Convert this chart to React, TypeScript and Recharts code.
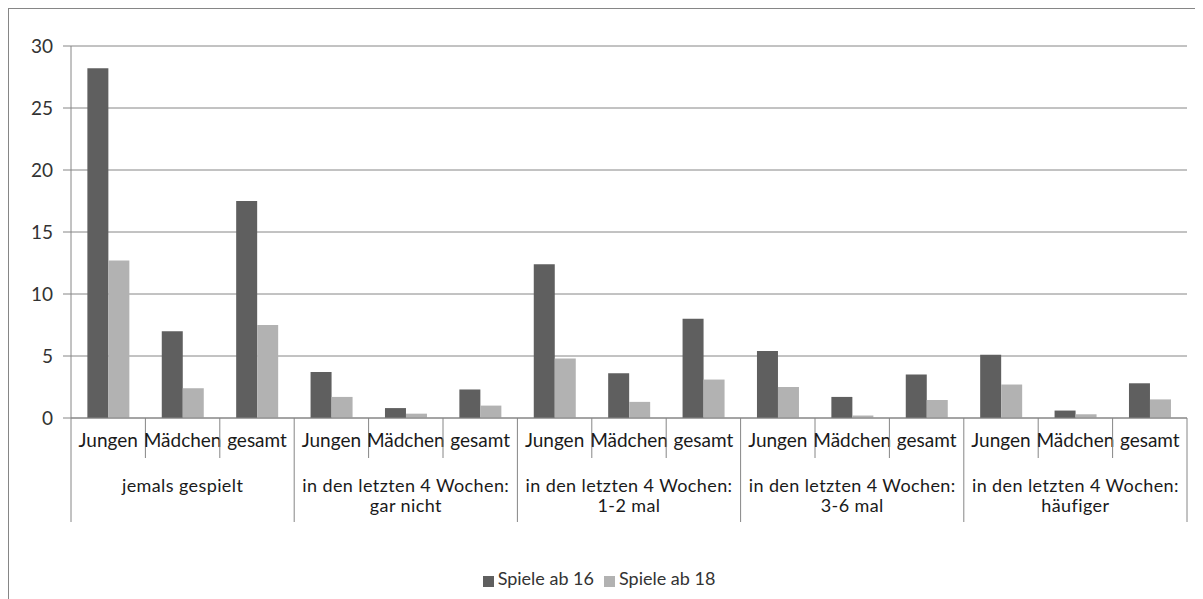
import React from 'react';
import { BarChart, Bar, XAxis, YAxis, CartesianGrid, Legend } from 'recharts';

const sexes = ['Jungen', 'Mädchen', 'gesamt'];
const groups = [
  ['jemals gespielt'],
  ['in den letzten 4 Wochen:', 'gar nicht'],
  ['in den letzten 4 Wochen:', '1-2 mal'],
  ['in den letzten 4 Wochen:', '3-6 mal'],
  ['in den letzten 4 Wochen:', 'häufiger'],
];
const ab16 = [28.2, 7.0, 17.5, 3.7, 0.8, 2.3, 12.4, 3.6, 8.0, 5.4, 1.7, 3.5, 5.1, 0.6, 2.8];
const ab18 = [12.7, 2.4, 7.5, 1.7, 0.35, 1.0, 4.8, 1.3, 3.1, 2.5, 0.2, 1.45, 2.7, 0.3, 1.5];
const yTicks = [0, 5, 10, 15, 20, 25, 30];

const data = groups.flatMap((g, gi) =>
  sexes.map((s, si) => ({
    key: `${gi}-${s}`,
    sex: s,
    group: gi,
    ab16: ab16[gi * 3 + si],
    ab18: ab18[gi * 3 + si],
  }))
);

const FONT = 'Lato, sans-serif';
const LINE = '#868686';

const CategoryTick = (props: any) => {
  const { x, y, payload } = props;
  const idx = payload.index ?? props.index ?? 0;
  const half = payload.offset || 37.2;
  const row = data[idx];
  const pos = idx % 3;
  const lines = groups[row.group];
  return (
    <g>
      <line x1={x - half} x2={x - half} y1={y} y2={y + (pos === 0 ? 104 : 40)} stroke={LINE} />
      {idx === data.length - 1 && (
        <line x1={x + half} x2={x + half} y1={y} y2={y + 104} stroke={LINE} />
      )}
      <text x={x} y={y + 29} textAnchor="middle" fontSize={19} fontFamily={FONT} fill="#1a1a1a">
        {row.sex}
      </text>
      {pos === 1 &&
        lines.map((l, i) => (
          <text key={i} x={x} y={y + 74 + i * 20} textAnchor="middle" fontSize={18} fontFamily={FONT} fill="#1a1a1a" letterSpacing={0.4}>
            {l}
          </text>
        ))}
    </g>
  );
};

export default function App() {
  return (
    <div style={{ borderLeft: `1px solid ${LINE}`, borderTop: `1px solid ${LINE}`, width: 1194 }}>
      <BarChart
        width={1194}
        height={590}
        data={data}
        margin={{ top: 37, right: 16, bottom: 10, left: 12 }}
        barCategoryGap="22%"
        barGap={0}
      >
        <CartesianGrid vertical={false} stroke={LINE} />
        <XAxis
          dataKey="key"
          interval={0}
          height={149}
          tickLine={false}
          tickSize={0}
          tickMargin={0}
          axisLine={{ stroke: LINE }}
          tick={<CategoryTick />}
        />
        <YAxis
          width={50}
          domain={[0, 30]}
          ticks={yTicks}
          axisLine={{ stroke: LINE }}
          tickLine={{ stroke: LINE }}
          tickSize={8}
          tickMargin={10}
          tick={{ fontSize: 19, fontFamily: FONT, fill: '#333' }}
        />
        <Legend
          verticalAlign="bottom"
          iconType="square"
          iconSize={11}
          formatter={(v: string) => (
            <span style={{ color: '#333', fontFamily: FONT, fontSize: 18 }}>{v}</span>
          )}
        />
        <Bar dataKey="ab16" name="Spiele ab 16" fill="#5f5f5f" isAnimationActive={false} />
        <Bar dataKey="ab18" name="Spiele ab 18" fill="#b2b2b2" isAnimationActive={false} />
      </BarChart>
    </div>
  );
}
